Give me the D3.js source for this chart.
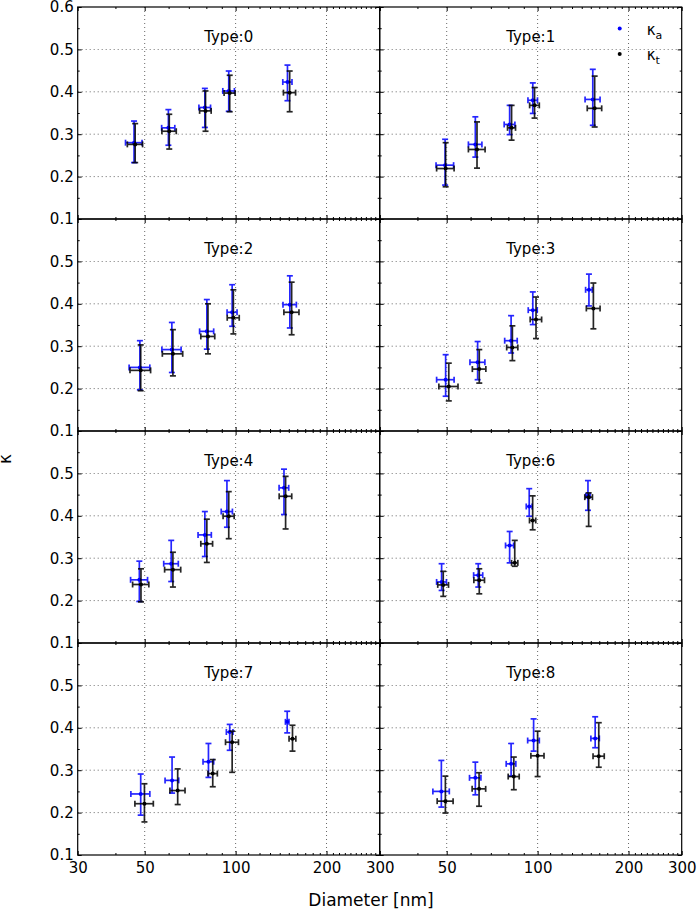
<!DOCTYPE html>
<html>
<head>
<meta charset="utf-8">
<script src="https://cdn.jsdelivr.net/npm/d3@7"></script>
<style>
    body { margin: 0; background: #fff; }
    svg { display: block; font-family: "DejaVu Sans", sans-serif; }
</style>
</head>
<body>
<svg id="chart" width="697" height="910"></svg>
<script>
const TYPES = ['Type:0', 'Type:1', 'Type:2', 'Type:3', 'Type:4', 'Type:6', 'Type:7', 'Type:8'];
const X_TICKS = [30, 50, 100, 200, 300];
const Y_TICKS = [0.1, 0.2, 0.3, 0.4, 0.5, 0.6];

// kappa_a (blue)
const diamA = [
    [46.1, 59.9, 79.1, 94.9, 148.5],
    [49.4, 62.2, 80.8, 96.4, 152.3],
    [48.2, 61.5, 80.3, 97.4, 151.2],
    [49.6, 63.3, 81.7, 96.4, 147.9],
    [48.0, 61.2, 79.1, 93.6, 144.6],
    [48.1, 63.6, 80.8, 93.8, 146.8],
    [48.5, 61.6, 81.3, 95.6, 148.2],
    [48.0, 62.2, 81.7, 97.0, 155.1]
];
const diamErrA = [
    [2.9, 3.0, 3.5, 4.2, 5.2],
    [3.3, 3.2, 3.3, 3.5, 8.7],
    [3.8, 4.5, 4.3, 3.7, 7.7],
    [3.3, 3.6, 3.9, 3.3, 3.7],
    [3.1, 3.4, 4.0, 4.0, 5.3],
    [1.8, 2.2, 2.5, 2.1, 2.4],
    [3.5, 3.2, 3.3, 2.4, 2.0],
    [3.0, 2.7, 3.0, 4.3, 5.0]
];
const kappaA = [
    [0.280, 0.315, 0.363, 0.402, 0.423],
    [0.227, 0.276, 0.323, 0.380, 0.382],
    [0.250, 0.292, 0.335, 0.380, 0.398],
    [0.221, 0.262, 0.313, 0.385, 0.433],
    [0.249, 0.287, 0.355, 0.410, 0.466],
    [0.244, 0.260, 0.330, 0.422, 0.447],
    [0.244, 0.276, 0.320, 0.390, 0.414],
    [0.250, 0.282, 0.315, 0.370, 0.375]
];
const kappaLoA = [
    [0.047, 0.041, 0.047, 0.048, 0.044],
    [0.047, 0.030, 0.024, 0.031, 0.061],
    [0.053, 0.054, 0.042, 0.033, 0.055],
    [0.039, 0.041, 0.029, 0.034, 0.038],
    [0.051, 0.042, 0.051, 0.037, 0.063],
    [0.020, 0.028, 0.041, 0.023, 0.034],
    [0.050, 0.030, 0.037, 0.043, 0.026],
    [0.037, 0.040, 0.029, 0.025, 0.022]
];
const kappaHiA = [
    [0.051, 0.043, 0.045, 0.047, 0.040],
    [0.061, 0.065, 0.045, 0.041, 0.071],
    [0.063, 0.064, 0.075, 0.065, 0.068],
    [0.059, 0.049, 0.059, 0.043, 0.037],
    [0.044, 0.055, 0.055, 0.073, 0.044],
    [0.043, 0.027, 0.033, 0.042, 0.036],
    [0.047, 0.055, 0.043, 0.018, 0.025],
    [0.073, 0.037, 0.048, 0.051, 0.051]
];

// kappa_t (black)
const diamT = [
    [46.5, 60.3, 79.5, 95.6, 151.0],
    [49.6, 63.0, 82.0, 97.7, 154.5],
    [48.5, 62.0, 81.0, 98.3, 153.3],
    [50.8, 64.1, 82.5, 98.8, 153.0],
    [48.6, 62.0, 80.3, 94.9, 146.4],
    [48.7, 64.1, 84.0, 96.3, 147.6],
    [49.9, 64.3, 84.0, 97.4, 154.3],
    [49.5, 64.0, 83.4, 100.0, 159.4]
];
const diamErrT = [
    [2.7, 3.3, 3.5, 4.0, 7.0],
    [3.3, 4.0, 2.5, 3.6, 8.5],
    [3.8, 4.8, 4.3, 4.5, 8.8],
    [3.7, 3.3, 3.5, 4.3, 8.0],
    [3.0, 3.8, 3.6, 4.0, 7.0],
    [2.0, 2.6, 2.0, 2.3, 4.3],
    [3.5, 3.7, 3.0, 4.8, 4.0],
    [3.0, 3.3, 3.5, 5.0, 6.8]
];
const kappaT = [
    [0.276, 0.307, 0.355, 0.397, 0.398],
    [0.219, 0.264, 0.315, 0.368, 0.361],
    [0.243, 0.282, 0.323, 0.367, 0.380],
    [0.205, 0.246, 0.297, 0.363, 0.389],
    [0.238, 0.273, 0.334, 0.399, 0.446],
    [0.237, 0.248, 0.289, 0.389, 0.444],
    [0.221, 0.252, 0.292, 0.366, 0.374],
    [0.227, 0.256, 0.285, 0.334, 0.333]
];
const kappaLoT = [
    [0.043, 0.042, 0.048, 0.044, 0.045],
    [0.043, 0.044, 0.029, 0.030, 0.044],
    [0.048, 0.052, 0.041, 0.038, 0.053],
    [0.034, 0.033, 0.031, 0.045, 0.048],
    [0.041, 0.041, 0.044, 0.053, 0.077],
    [0.027, 0.032, 0.008, 0.022, 0.069],
    [0.043, 0.033, 0.031, 0.071, 0.029],
    [0.028, 0.041, 0.031, 0.049, 0.026]
];
const kappaHiT = [
    [0.049, 0.040, 0.047, 0.042, 0.051],
    [0.061, 0.065, 0.053, 0.042, 0.076],
    [0.060, 0.057, 0.077, 0.066, 0.071],
    [0.055, 0.046, 0.051, 0.053, 0.060],
    [0.037, 0.041, 0.058, 0.058, 0.047],
    [0.032, 0.027, 0.053, 0.058, 0.010],
    [0.047, 0.051, 0.033, 0.026, 0.032],
    [0.059, 0.038, 0.046, 0.058, 0.079]
];

const LEFT = 77.7;
const TOP = 7;
const PANEL_W = 302;
const PANEL_H = 212;
const FONT_TICK = 15;
const FONT_LABEL = 17;
const CAP = 3;

const series = [
    { name: 'a', color: '#0000ff', d: diamA, de: diamErrA, k: kappaA, lo: kappaLoA, hi: kappaHiA },
    { name: 't', color: '#000000', d: diamT, de: diamErrT, k: kappaT, lo: kappaLoT, hi: kappaHiT }
];

const svg = d3.select('#chart');
const x = d3.scaleLog().domain([30, 300]).range([0, PANEL_W]);
const y = d3.scaleLinear().domain([0.1, 0.6]).range([PANEL_H, 0]);

const minorX = d3.range(40, 300, 10).filter(v => X_TICKS.indexOf(v) < 0);
const minorY = Y_TICKS.slice(0, -1).map(v => +(v + 0.05).toFixed(2));

function addAxis(g, axis, transform, labelled) {
    const a = g.append('g').attr('transform', transform).call(axis);
    a.select('.domain').remove();
    a.attr('font-family', null).attr('font-size', FONT_TICK);
    a.selectAll('line').attr('stroke', '#000').attr('stroke-width', 1);
    a.selectAll('text').attr('fill', '#000');
    if (!labelled) a.selectAll('text').remove();
    return a;
}

TYPES.forEach(function (title, i) {
    const row = Math.floor(i / 2);
    const col = i % 2;
    const g = svg.append('g')
        .attr('transform', 'translate(' + (LEFT + col * PANEL_W) + ',' + (TOP + row * PANEL_H) + ')');

    // dotted grid
    g.selectAll('.gx').data(X_TICKS.slice(1, -1)).join('line')
        .attr('x1', d => x(d)).attr('x2', d => x(d))
        .attr('y1', 0).attr('y2', PANEL_H)
        .attr('stroke', '#000').attr('stroke-width', 0.8)
        .attr('stroke-dasharray', '1,3').attr('opacity', 0.75);
    g.selectAll('.gy').data(Y_TICKS.slice(1, -1)).join('line')
        .attr('x1', 0).attr('x2', PANEL_W)
        .attr('y1', d => y(d)).attr('y2', d => y(d))
        .attr('stroke', '#000').attr('stroke-width', 0.8)
        .attr('stroke-dasharray', '1,3').attr('opacity', 0.75);

    // ticks on all sides, pointing in
    const bottomLabels = row === 3;
    const leftLabels = col === 0;
    addAxis(g, d3.axisBottom(x).tickValues(X_TICKS).tickSize(-4).tickSizeOuter(0).tickPadding(7)
        .tickFormat(d => (col === 1 && d === 30) ? '' : d), 'translate(0,' + PANEL_H + ')', bottomLabels);
    addAxis(g, d3.axisBottom(x).tickValues(minorX).tickSize(-2).tickSizeOuter(0).tickFormat(''), 'translate(0,' + PANEL_H + ')', false);
    addAxis(g, d3.axisTop(x).tickValues(X_TICKS).tickSize(-4).tickSizeOuter(0), 'translate(0,0)', false);
    addAxis(g, d3.axisTop(x).tickValues(minorX).tickSize(-2).tickSizeOuter(0), 'translate(0,0)', false);
    addAxis(g, d3.axisLeft(y).tickValues(row === 0 ? Y_TICKS : Y_TICKS.slice(0, -1)).tickSize(-4).tickSizeOuter(0).tickPadding(4)
        .tickFormat(d3.format('.1f')), 'translate(0,0)', leftLabels);
    addAxis(g, d3.axisLeft(y).tickValues(minorY).tickSize(-2).tickSizeOuter(0), 'translate(0,0)', false);
    addAxis(g, d3.axisRight(y).tickValues(Y_TICKS).tickSize(-4).tickSizeOuter(0), 'translate(' + PANEL_W + ',0)', false);
    addAxis(g, d3.axisRight(y).tickValues(minorY).tickSize(-2).tickSizeOuter(0), 'translate(' + PANEL_W + ',0)', false);

    // frame
    g.append('rect')
        .attr('width', PANEL_W).attr('height', PANEL_H)
        .attr('fill', 'none').attr('stroke', '#000').attr('stroke-width', 1.2);

    g.append('text')
        .text(title)
        .attr('x', PANEL_W / 2).attr('y', 35)
        .attr('text-anchor', 'middle')
        .attr('font-size', FONT_TICK);

    // error bars: kappa_a first, kappa_t on top
    series.forEach(function (s) {
        const pts = s.d[i].map((d, j) => ({ d: d, de: s.de[i][j], k: s.k[i][j], lo: s.lo[i][j], hi: s.hi[i][j] }));
        const eg = g.append('g').attr('stroke', s.color).attr('stroke-width', 1.7).attr('opacity', 0.85);
        pts.forEach(function (p) {
            const cx = x(p.d);
            const cy = y(p.k);
            const yTop = y(p.k + p.hi);
            const yBot = y(p.k - p.lo);
            const xL = x(p.d - p.de);
            const xR = x(p.d + p.de);
            eg.append('line').attr('x1', cx).attr('x2', cx).attr('y1', yTop).attr('y2', yBot);
            eg.append('line').attr('x1', cx - CAP).attr('x2', cx + CAP).attr('y1', yTop).attr('y2', yTop);
            eg.append('line').attr('x1', cx - CAP).attr('x2', cx + CAP).attr('y1', yBot).attr('y2', yBot);
            eg.append('line').attr('x1', xL).attr('x2', xR).attr('y1', cy).attr('y2', cy);
            eg.append('line').attr('x1', xL).attr('x2', xL).attr('y1', cy - CAP).attr('y2', cy + CAP);
            eg.append('line').attr('x1', xR).attr('x2', xR).attr('y1', cy - CAP).attr('y2', cy + CAP);
        });
        g.selectAll('.pt-' + s.name).data(pts).join('circle')
            .attr('cx', p => x(p.d)).attr('cy', p => y(p.k))
            .attr('r', 2).attr('fill', s.color);
    });

    // legend in Type:1
    if (i === 1) {
        series.forEach(function (s, j) {
            const ly = 21.5 + j * 25.5;
            g.append('circle').attr('cx', 240).attr('cy', ly).attr('r', 2).attr('fill', s.color);
            const t = g.append('text').attr('x', 267).attr('y', ly + 6).attr('font-size', FONT_TICK);
            t.append('tspan').text('κ');
            t.append('tspan').text(s.name).attr('font-size', 11).attr('dy', 4);
        });
    }
});

// axis labels
svg.append('text')
    .text('Diameter [nm]')
    .attr('x', 371).attr('y', 906)
    .attr('text-anchor', 'middle')
    .attr('font-size', FONT_LABEL);

svg.append('text')
    .text('κ')
    .attr('transform', 'translate(11,459) rotate(-90)')
    .attr('text-anchor', 'middle')
    .attr('font-size', FONT_LABEL);
</script>
</body>
</html>
